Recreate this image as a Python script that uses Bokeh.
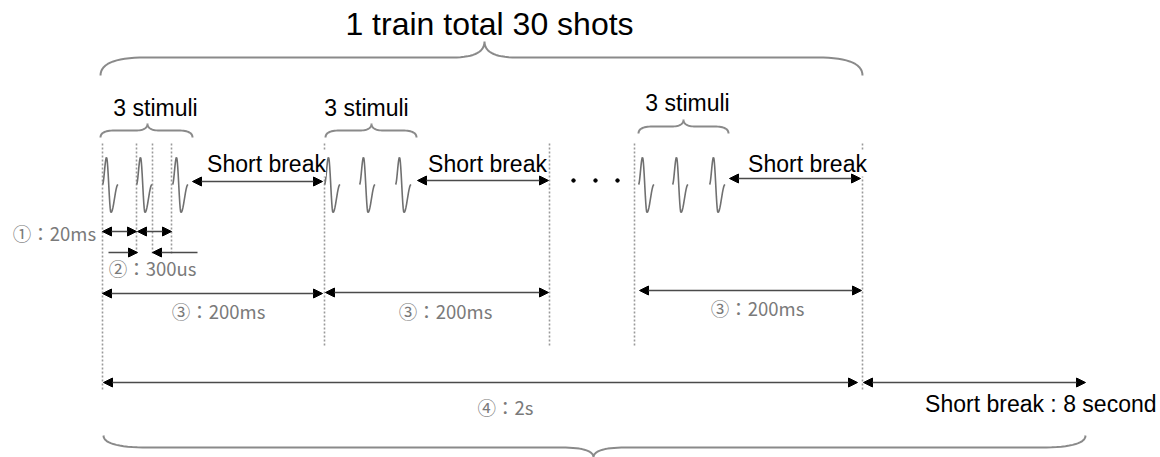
import numpy as np
from bokeh.plotting import figure
from bokeh.models import Range1d, Arrow, NormalHead
from bokeh.core.properties import value
from bokeh.embed import file_html
from bokeh.resources import INLINE

# ---------------- content ----------------
title_text = "1 train total 30 shots"
stim_label = "3 stimuli"
break_label = "Short break"
final_break_label = "Short break : 8 second"
lbl_interval = "①：20ms"
lbl_gap = "②：300us"
lbl_train = "③：200ms"
lbl_total = "④：2s"

# schematic positions (diagram units = page pixels)
pulse_starts = [[102, 136, 172], [324, 359, 395], [638, 672, 709]]
pulse_center_y = 184
wave_dx = [0, 4, 8.5, 15.5]
wave_dy = [0, -27, 28, 0]

guide_x = [102, 136, 152, 171, 324, 549, 634, 862]
guide_top = [143] * 8
guide_bottom = [390, 253, 253, 253, 345, 345, 345, 390]

stim_brace_x0 = [100, 325, 638]
stim_brace_x1 = [192, 416, 728]
stim_brace_tip = [147, 371, 683]
stim_brace_end_y = [137, 137, 133]
stim_label_x = [155, 366, 687]
stim_label_y = [107, 107, 102]

break_arrow_x0 = [192, 417, 729]
break_arrow_x1 = [322, 548, 860]
break_arrow_y = [181, 180, 178]
break_label_x = [266, 487, 807]

train_arrow_x0 = [102, 325, 639]
train_arrow_x1 = [322, 548, 861]
train_arrow_y = [293, 292, 290]
train_label_x = [218, 445, 757]
train_label_y = [310, 310, 307]

interval_x0 = [102, 137]
interval_x1 = [136, 171]
interval_y = 231

ellipsis_x = [573, 595, 617]
ellipsis_y = 180

# ---------------- figure ----------------
W, H = 1160, 457
p = figure(width=W, height=H, x_range=Range1d(0, W), y_range=Range1d(H, 0),
           output_backend="svg", toolbar_location=None, min_border=0,
           x_axis_location=None, y_axis_location=None)
p.grid.visible = False
p.outline_line_color = None
p.background_fill_color = "white"
p.border_fill_color = "white"

GRAY_LINE = "#8a8a8a"
ARROW_LINE = "#4a4a4a"
LABEL_GRAY = "#7a7a7a"


def quad_bez(p0, c, p1, n=16):
    t = np.linspace(0, 1, n)
    x = (1 - t) ** 2 * p0[0] + 2 * (1 - t) * t * c[0] + t ** 2 * p1[0]
    y = (1 - t) ** 2 * p0[1] + 2 * (1 - t) * t * c[1] + t ** 2 * p1[1]
    return list(x), list(y)


def brace(xa, xb, xt, y_end, y_line, y_tip, r_end, r_tip):
    xs, ys = [], []
    segs = [
        ((xa, y_end), (xa, y_line), (xa + r_end, y_line)),
        ((xt - r_tip, y_line), (xt, y_line), (xt, y_tip)),
        ((xt, y_tip), (xt, y_line), (xt + r_tip, y_line)),
        ((xb - r_end, y_line), (xb, y_line), (xb, y_end)),
    ]
    for s in segs:
        x, y = quad_bez(*s)
        xs += x
        ys += y
    return xs, ys


def wave(x0, yc):
    xs, ys = [], []
    for i in range(3):
        t = np.linspace(0, 1, 12)
        e = (1 - np.cos(np.pi * t)) / 2
        xs += list(x0 + wave_dx[i] + (wave_dx[i + 1] - wave_dx[i]) * t)
        ys += list(yc + wave_dy[i] + (wave_dy[i + 1] - wave_dy[i]) * e)
    return xs, ys


# dotted guide lines
p.segment(x0=guide_x, y0=guide_top, x1=guide_x, y1=guide_bottom,
          line_color="#9a9a9a", line_width=1.6, line_dash="2 2")

# waveforms
wx, wy = [], []
for train in pulse_starts:
    for x0 in train:
        a, b = wave(x0, pulse_center_y)
        wx.append(a)
        wy.append(b)
p.multi_line(xs=wx, ys=wy, line_color="#707070", line_width=1.6)

# braces
bx, by = [], []
a, b = brace(100, 862, 484, 75, 57, 41, 45, 32)
bx.append(a); by.append(b)
for x0, x1, xt, ye in zip(stim_brace_x0, stim_brace_x1, stim_brace_tip, stim_brace_end_y):
    a, b = brace(x0, x1, xt, ye, ye - 7, ye - 14, 14, 12)
    bx.append(a); by.append(b)
a, b = brace(103, 1085, 593, 435, 447, 457, 45, 32)
bx.append(a); by.append(b)
p.multi_line(xs=bx, ys=by, line_color=GRAY_LINE, line_width=2)


# arrows
def head():
    return NormalHead(size=9, fill_color="black", line_color="black", line_width=1)


def add_arrow(x0, x1, y, both=True):
    p.add_layout(Arrow(x_start=x0, y_start=y, x_end=x1, y_end=y,
                       start=head() if both else None, end=head(),
                       line_color=ARROW_LINE, line_width=1.5))


for x0, x1 in zip(interval_x0, interval_x1):
    add_arrow(x0, x1, interval_y)
add_arrow(108, 137, 252, both=False)
add_arrow(197, 152, 252, both=False)
for x0, x1, y in zip(break_arrow_x0, break_arrow_x1, break_arrow_y):
    add_arrow(x0, x1, y)
for x0, x1, y in zip(train_arrow_x0, train_arrow_x1, train_arrow_y):
    add_arrow(x0, x1, y)
add_arrow(103, 857, 382)
add_arrow(863, 1085, 382)

# ellipsis dots
p.scatter(x=ellipsis_x, y=[ellipsis_y] * 3, size=3.5, color="black")

# texts
FONT = value("Liberation Sans")
CJK = value("Noto Sans CJK JP")

p.text(x=[489], y=[23], text=[title_text], text_font=FONT, text_font_size="32px",
       text_align="center", text_baseline="middle", text_color="black")
p.text(x=stim_label_x, y=stim_label_y, text=[stim_label] * 3, text_font=FONT,
       text_font_size="23px", text_align="center", text_baseline="middle", text_color="black")
p.text(x=break_label_x, y=[163] * 3, text=[break_label] * 3, text_font=FONT,
       text_font_size="23px", text_align="center", text_baseline="middle", text_color="black",
       background_fill_color="white")
p.text(x=[1156], y=[403], text=[final_break_label], text_font=FONT,
       text_font_size="23px", text_align="right", text_baseline="middle", text_color="black")

p.text(x=[54], y=[232], text=[lbl_interval], text_font=CJK, text_font_size="18.5px",
       text_align="center", text_baseline="middle", text_color=LABEL_GRAY)
p.text(x=[152], y=[267], text=[lbl_gap], text_font=CJK, text_font_size="18.5px",
       text_align="center", text_baseline="middle", text_color=LABEL_GRAY)
p.text(x=train_label_x, y=train_label_y, text=[lbl_train] * 3, text_font=CJK,
       text_font_size="18.5px", text_align="center", text_baseline="middle", text_color=LABEL_GRAY)
p.text(x=[505], y=[406], text=[lbl_total], text_font=CJK, text_font_size="18.5px",
       text_align="center", text_baseline="middle", text_color=LABEL_GRAY)

open("out.html", "w").write(file_html(p, INLINE))
